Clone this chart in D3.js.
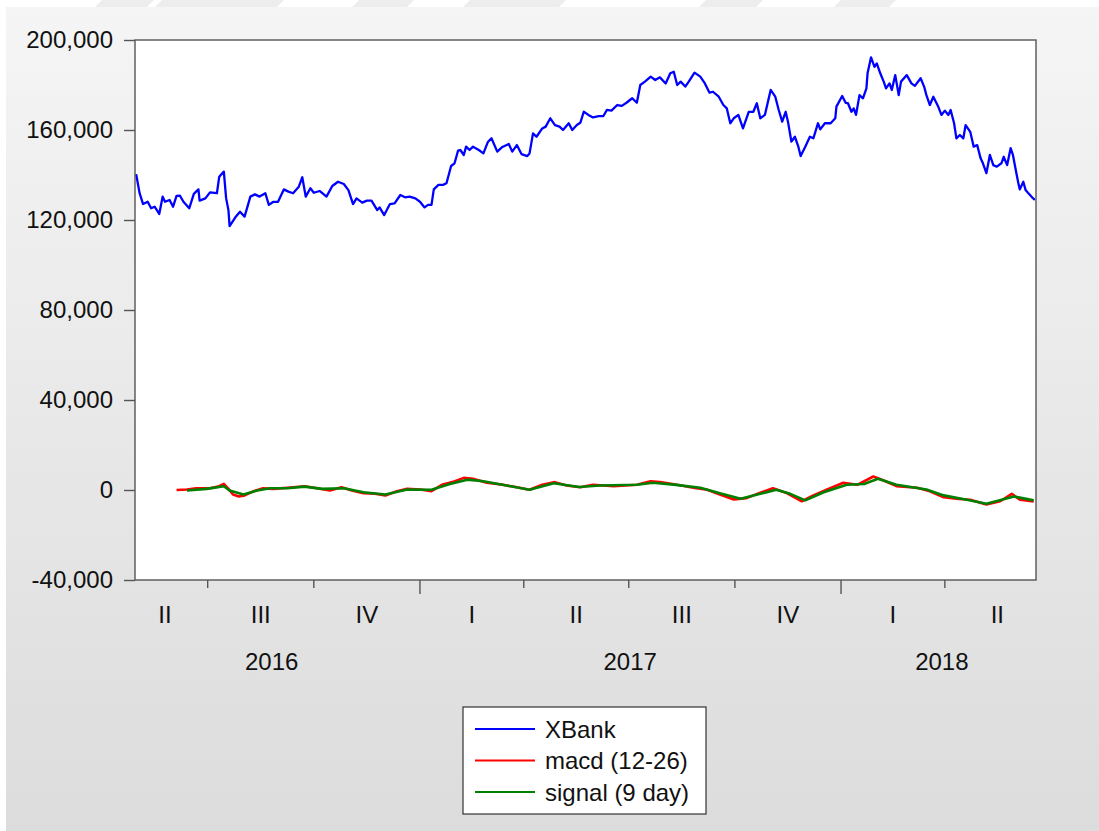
<!DOCTYPE html>
<html>
<head>
<meta charset="utf-8">
<script src="https://cdn.jsdelivr.net/npm/d3@7"></script>
<style>
    html, body { margin: 0; padding: 0; background: #fff; }
    svg { display: block; font-family: "Liberation Sans", Arial, sans-serif; }
</style>
</head>
<body>
<svg id="chart" width="1099" height="831"></svg>
<script>
// Observations are stored as days after the first trading day
const startDate = new Date(2016, 3, 29);
const endDate = new Date(2018, 5, 19);

const xbankDays = [
    1, 4, 7, 11, 14, 17, 21, 24, 26, 30,
    33, 36, 39, 42, 47, 51, 55, 56, 61, 65,
    71, 73, 77, 79, 81, 82, 87, 91, 95, 100,
    104, 108, 113, 116, 120, 124, 129, 133, 137, 142,
    145, 148, 152, 155, 160, 166, 171, 176, 181, 185,
    189, 192, 197, 201, 205, 210, 212, 216, 221, 225,
    230, 234, 238, 243, 247, 251, 254, 257, 259, 263,
    267, 270, 274, 277, 280, 282, 285, 287, 290, 293,
    298, 302, 306, 309, 314, 318, 324, 327, 331, 335,
    340, 342, 345, 348, 353, 356, 360, 364, 368, 371,
    376, 379, 383, 386, 389, 393, 397, 402, 406, 409,
    413, 418, 422, 426, 431, 435, 438, 442, 447, 451,
    455, 460, 464, 467, 470, 473, 477, 480, 485, 490,
    494, 498, 501, 506, 510, 513, 516, 519, 523, 527,
    532, 536, 539, 542, 546, 551, 555, 558, 561, 564,
    566, 569, 572, 575, 577, 581, 585, 588, 592, 594,
    598, 603, 607, 608, 613, 616, 618, 621, 623, 625,
    628, 631, 634, 635, 638, 641, 643, 646, 649, 651,
    654, 656, 659, 662, 664, 669, 673, 676, 681, 684,
    686, 689, 692, 696, 699, 702, 705, 707, 710, 712,
    715, 718, 720, 724, 727, 730, 733, 735, 738, 741,
    744, 747, 751, 753, 756, 759, 761, 764, 766, 767,
    770, 772, 774, 777, 780
];
const xbankValues = [
    140400, 131900, 127100, 128100, 125200, 125900, 122700, 130400, 128100, 128900,
    125900, 130700, 130800, 128100, 125200, 131600, 133600, 128600, 129600, 132300,
    131900, 139200, 141500, 129600, 124400, 117300, 121200, 123700, 121500, 130400,
    131400, 130400, 131900, 126700, 128100, 128100, 133600, 132600, 131900, 134800,
    139000, 130400, 134100, 132100, 132900, 130400, 135100, 137000, 136000, 133300,
    127100, 129600, 127700, 128600, 128600, 124400, 125600, 122200, 127100, 127400,
    131100, 130100, 130400, 129600, 128100, 125600, 126700, 126700, 133600, 135600,
    135600, 136300, 144000, 145200, 150800, 151100, 148900, 152600, 151100, 152600,
    151100, 149600, 154800, 156300, 150400, 152300, 153800, 150400, 153300, 149300,
    148400, 149600, 158500, 157000, 160700, 161500, 165200, 162200, 161500, 160000,
    163000, 160000, 162200, 163200, 168100, 166700, 165600, 166200, 166200, 168900,
    168600, 171100, 170700, 172100, 174100, 172100, 180000, 181500, 183700, 182200,
    183400, 180700, 185200, 185900, 180000, 181500, 179300, 181500, 185500, 183700,
    180700, 176600, 177000, 174800, 171100, 169600, 163000, 165200, 166700, 160700,
    168100, 168100, 171900, 165200, 166700, 177800, 174800, 168900, 163700, 168100,
    163700, 154800, 157000, 152600, 148400, 152600, 157000, 156300, 163000, 160300,
    163000, 163000, 165200, 170400, 175100, 172100, 171900, 168100, 169600, 166700,
    175500, 174100, 178500, 185200, 192300, 188100, 189600, 185200, 181500, 178500,
    180700, 177800, 184400, 175500, 181500, 184400, 180700, 179600, 183000, 179300,
    175500, 171100, 174800, 170700, 166700, 168600, 166700, 168900, 163000, 156300,
    157800, 156300, 162200, 159200, 152600, 153300, 147400, 145200, 140800, 148900,
    144400, 143700, 145200, 148100, 144400, 151900, 148900, 140800, 135600, 133600,
    137000, 133300, 132100, 130400, 128900
];

const macdDays = [
    36, 45, 53, 65, 72, 77, 81, 85, 90, 95,
    103, 111, 120, 132, 147, 158, 169, 179, 188, 198,
    208, 217, 227, 236, 247, 257, 266, 275, 285, 293,
    305, 319, 331, 342, 353, 364, 374, 386, 397, 415,
    435, 447, 455, 470, 484, 496, 507, 519, 530, 542,
    553, 565, 578, 588, 600, 614, 626, 640, 649, 660,
    678, 689, 701, 712, 724, 738, 750, 760, 767, 779
];
const macdValues = [
    0, 200, 800, 800, 1500, 2700, 500, -2000, -2900, -2400,
    -500, 800, 500, 1000, 1700, 800, -200, 1200, -200, -1400,
    -1700, -2400, -600, 500, 200, -500, 2300, 3500, 5400, 5000,
    3200, 2300, 1200, 100, 2300, 3500, 2000, 1200, 2300, 1700,
    2300, 3900, 3500, 2300, 1000, 100, -2000, -4200, -3600, -1200,
    800, -1400, -5000, -2400, 200, 3200, 2300, 6000, 4200, 1700,
    1000, -600, -3200, -3900, -4300, -6400, -5000, -1700, -4300, -5100
];

const signalDays = [
    45, 62, 77, 82, 94, 106, 117, 132, 147, 162,
    181, 198, 217, 236, 257, 273, 288, 302, 322, 342,
    363, 385, 403, 435, 449, 467, 490, 507, 525, 542,
    556, 568, 581, 597, 617, 632, 644, 660, 686, 701,
    721, 738, 762, 779
];
const signalValues = [
    -200, 500, 1700, -200, -2000, -200, 800, 800, 1500, 500,
    800, -1000, -2000, 200, 100, 2700, 4600, 3900, 2000, 100,
    3000, 1300, 2000, 2300, 3200, 2400, 1000, -1400, -3900, -1700,
    100, -1700, -4600, -1000, 2300, 2700, 5000, 2300, 200, -2400,
    -4300, -6100, -2900, -4600
];

const yTicks = [-40000, 0, 40000, 80000, 120000, 160000, 200000];
const quarterLabels = ['I', 'II', 'III', 'IV'];
const yearLabels = ['2016', '2017', '2018'];
const seriesNames = ['XBank', 'macd (12-26)', 'signal (9 day)'];
const seriesColors = ['#0000ff', '#ff0000', '#008000'];

const width = 1099;
const height = 831;
const plot = { left: 135, right: 1036, top: 40, bottom: 580 };

const svg = d3.select('#chart')
    .attr('viewBox', [0, 0, width, height]);

// Background: white page with a grey gradient panel
const defs = svg.append('defs');
const grad = defs.append('linearGradient')
    .attr('id', 'bg')
    .attr('x1', 0).attr('y1', 0).attr('x2', 0).attr('y2', 1);
grad.append('stop').attr('offset', '0%').attr('stop-color', '#f5f5f5');
grad.append('stop').attr('offset', '100%').attr('stop-color', '#dcdcdc');

defs.append('clipPath').attr('id', 'plotclip')
    .append('rect')
    .attr('x', plot.left).attr('y', plot.top)
    .attr('width', plot.right - plot.left).attr('height', plot.bottom - plot.top);

svg.append('rect').attr('width', width).attr('height', height).attr('fill', '#fff');

// faint shapes in the white strip along the top
const topShapes = [[95, 147], [155, 277], [352, 407], [463, 559], [699, 756], [834, 889]];
svg.append('g').selectAll('polygon')
    .data(topShapes)
    .enter()
    .append('polygon')
    .attr('points', d => `${d[0]},7 ${d[0] + 7},0 ${d[1] + 7},0 ${d[1]},7`)
    .attr('fill', '#ededed');

svg.append('rect')
    .attr('x', 6).attr('y', 7)
    .attr('width', width - 6).attr('height', height - 7)
    .attr('fill', 'url(#bg)');

// Scales
const x = d3.scaleTime()
    .domain([startDate, endDate])
    .range([plot.left, plot.right]);

const y = d3.scaleLinear()
    .domain([-40000, 200000])
    .range([plot.bottom, plot.top]);

const toDate = d => d3.timeDay.offset(startDate, d);

svg.append('rect')
    .attr('x', plot.left).attr('y', plot.top)
    .attr('width', plot.right - plot.left).attr('height', plot.bottom - plot.top)
    .attr('fill', '#fff');

// Lines
const line = d3.line()
    .x(d => x(toDate(d[0])))
    .y(d => y(d[1]));

const series = [
    { days: xbankDays, values: xbankValues, width: 2.3 },
    { days: macdDays, values: macdValues, width: 2.6 },
    { days: signalDays, values: signalValues, width: 2.6 }
];

svg.append('g')
    .attr('clip-path', 'url(#plotclip)')
    .selectAll('path')
    .data(series)
    .enter()
    .append('path')
    .attr('d', s => line(s.days.map((d, i) => [d, s.values[i]])))
    .attr('fill', 'none')
    .attr('stroke', (s, i) => seriesColors[i])
    .attr('stroke-width', s => s.width)
    .attr('stroke-linejoin', 'round');

// Frame
svg.append('rect')
    .attr('x', plot.left).attr('y', plot.top)
    .attr('width', plot.right - plot.left).attr('height', plot.bottom - plot.top)
    .attr('fill', 'none')
    .attr('stroke', '#555')
    .attr('stroke-width', 1.4);

// Y axis
const fmt = d3.formatLocale({ decimal: '.', thousands: ',', grouping: [3], currency: ['', ''], minus: '-' }).format(',');
const yAxis = svg.append('g')
    .attr('transform', `translate(${plot.left},0)`)
    .call(d3.axisLeft(y).tickValues(yTicks).tickSize(11).tickPadding(11).tickFormat(fmt));
yAxis.select('.domain').remove();
yAxis.selectAll('line').attr('stroke', '#555').attr('stroke-width', 1.4);
yAxis.selectAll('text')
    .attr('fill', '#111')
    .style('font-size', '24px')
    .style('font-family', '"Liberation Sans", Arial, sans-serif');

// X axis: quarter ticks, longer at the start of each year
const quarterTicks = d3.timeMonth.every(3).range(startDate, endDate);
svg.append('g').selectAll('line')
    .data(quarterTicks)
    .enter()
    .append('line')
    .attr('x1', d => x(d)).attr('x2', d => x(d))
    .attr('y1', plot.bottom)
    .attr('y2', d => plot.bottom + (d.getMonth() === 0 ? 14 : 8))
    .attr('stroke', '#555')
    .attr('stroke-width', 1.4);

const quarters = d3.timeMonth.every(3).range(new Date(2016, 3, 1), endDate).map(q => {
    const next = d3.timeMonth.offset(q, 3);
    let pos = x(new Date((+q + +next) / 2));
    pos = Math.max(plot.left + 30, Math.min(plot.right - 30, pos));
    return { year: q.getFullYear(), label: quarterLabels[q.getMonth() / 3], pos: pos };
});

svg.append('g').selectAll('text')
    .data(quarters)
    .enter()
    .append('text')
    .attr('x', d => d.pos)
    .attr('y', 623)
    .attr('text-anchor', 'middle')
    .attr('fill', '#111')
    .style('font-size', '24px')
    .text(d => d.label);

// year label sits between its labelled quarters and the visible part of the year
svg.append('g').selectAll('text')
    .data(yearLabels)
    .enter()
    .append('text')
    .attr('x', yr => {
        const qs = quarters.filter(q => String(q.year) === yr);
        const byLabels = (qs[0].pos + qs[qs.length - 1].pos) / 2;
        const a = Math.max(plot.left, x(new Date(+yr, 0, 1)));
        const b = Math.min(plot.right, x(new Date(+yr + 1, 0, 1)));
        return (byLabels + (a + b) / 2) / 2;
    })
    .attr('y', 670)
    .attr('text-anchor', 'middle')
    .attr('fill', '#111')
    .style('font-size', '24px')
    .text(yr => yr);

// Legend
const legend = svg.append('g').attr('transform', 'translate(463,707)');
legend.append('rect')
    .attr('width', 243).attr('height', 107)
    .attr('fill', '#fff')
    .attr('stroke', '#333')
    .attr('stroke-width', 1.2);

const items = legend.selectAll('g.item')
    .data(seriesNames)
    .enter()
    .append('g')
    .attr('class', 'item')
    .attr('transform', (d, i) => `translate(0,${22 + i * 31.5})`);

items.append('line')
    .attr('x1', 12).attr('x2', 72)
    .attr('stroke', (d, i) => seriesColors[i])
    .attr('stroke-width', 2.2);

items.append('text')
    .attr('x', 82)
    .attr('y', 8.5)
    .attr('fill', '#111')
    .style('font-size', '24px')
    .text(d => d);
</script>
</body>
</html>
